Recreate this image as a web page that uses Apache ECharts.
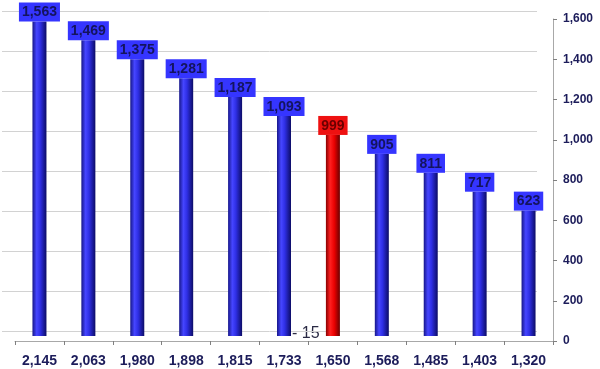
<!DOCTYPE html>
<html>
<head>
<meta charset="utf-8">
<script src="https://cdn.jsdelivr.net/npm/echarts@6/dist/echarts.min.js"></script>
<style>html,body{margin:0;padding:0;background:#fff}#c{width:600px;height:369px}</style>
</head>
<body>
<div id="c"></div>
<script>
const categories = ['2,145','2,063','1,980','1,898','1,815','1,733','1,650','1,568','1,485','1,403','1,320'];
const values = [1563,1469,1375,1281,1187,1093,999,905,811,717,623];
const highlightIndex = 6;
const noteText = '- 15';
const yMin = 0, yMax = 1600, yStep = 200;

const fmt = v => v.toLocaleString('en-US');
const blueGrad = new echarts.graphic.LinearGradient(0,0,1,0,[
  {offset:0,color:'#16168a'},{offset:0.3,color:'#4646ff'},{offset:0.55,color:'#2f2fe6'},{offset:1,color:'#0c0c66'}]);
const redGrad = new echarts.graphic.LinearGradient(0,0,1,0,[
  {offset:0,color:'#8a0000'},{offset:0.3,color:'#ff2020'},{offset:0.6,color:'#ea0000'},{offset:1,color:'#6a0000'}]);

const data = values.map((v,i) => {
  const hi = i === highlightIndex;
  return {
    value: v,
    itemStyle: {color: hi ? redGrad : blueGrad},
    label: hi ? {backgroundColor:'#ee1111', color:'#6a0000'} : undefined
  };
});

const font = 'Liberation Sans, Arial';
const hiddenCat = gi => ({type:'category', gridIndex: gi, data: categories, show: false, boundaryGap: true});
const hiddenVal = (gi, split) => ({type:'value', gridIndex: gi, min: yMin, max: yMax, interval: yStep,
  axisLine:{show:false}, axisTick:{show:false}, axisLabel:{show:false},
  splitLine:{show: split, lineStyle:{color:'#d2d2d2'}}});

const chart = echarts.init(document.getElementById('c'), null, {renderer:'canvas'});
chart.setOption({
  animation: false,
  backgroundColor: '#ffffff',
  grid: [
    {left: 15, right: 47, top: 19, bottom: 28},   // visible front axes
    {left: 15, right: 47, top: 14, bottom: 33},   // bars
    {left: 2, right: 63, top: 11, bottom: 38}     // back-wall gridlines
  ],
  xAxis: [
    {
      type: 'category', gridIndex: 0,
      data: categories,
      boundaryGap: true,
      axisLine: {show: true, lineStyle: {color: '#a8a8a8'}},
      axisTick: {show: true, length: 4, lineStyle: {color: '#808080'}},
      axisLabel: {color: '#1c1c5a', fontWeight: 'bold', fontSize: 14, fontFamily: font, margin: 13}
    },
    hiddenCat(1),
    hiddenCat(2)
  ],
  yAxis: [
    {
      type: 'value', gridIndex: 0,
      position: 'right',
      min: yMin, max: yMax, interval: yStep,
      axisLine: {show: true, lineStyle: {color: '#a8a8a8'}},
      axisTick: {show: true, length: 4, lineStyle: {color: '#808080'}},
      axisLabel: {color: '#1c1c5a', fontWeight: 'bold', fontSize: 12, fontFamily: font, margin: 10, formatter: v => fmt(v)},
      splitLine: {show: false}
    },
    hiddenVal(1, false),
    hiddenVal(2, true)
  ],
  series: [{
    type: 'bar',
    xAxisIndex: 1, yAxisIndex: 1,
    data: data,
    barWidth: 14,
    label: {
      show: true,
      position: 'top',
      distance: 0,
      formatter: p => fmt(p.value),
      backgroundColor: '#3535ff',
      color: '#14145e',
      fontWeight: 'bold',
      fontSize: 14,
      fontFamily: font,
      lineHeight: 14,
      padding: [3, 3, 2, 3]
    }
  }],
  graphic: [{
    type: 'text',
    left: 292, top: 326,
    style: {text: noteText, fill: '#2a2a44', font: '16px Liberation Sans, Arial'}
  }]
});
</script>
</body>
</html>
